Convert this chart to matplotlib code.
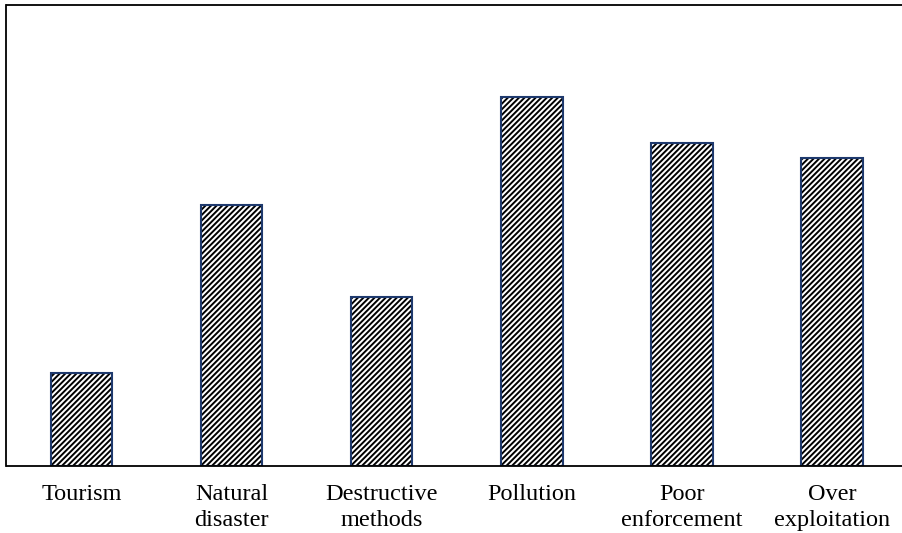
import matplotlib
matplotlib.use("Agg")
import matplotlib.pyplot as plt

categories = ["Tourism", "Natural\ndisaster", "Destructive\nmethods", "Pollution",
              "Poor\nenforcement", "Over\nexploitation"]
values = [10, 28.3, 18.3, 40, 35, 33.4]

plt.rcParams['font.family'] = ['Liberation Serif', 'DejaVu Serif']
plt.rcParams['hatch.linewidth'] = 1.4

fig = plt.figure(figsize=(9.03, 5.33), dpi=100)
ax = fig.add_axes([6.5 / 903, (533 - 465.5) / 533, (907 - 6.5) / 903, (465.5 - 5) / 533])

x = range(len(values))
# hatch drawn in black, outline in navy on top
ax.bar(x, values, width=0.41, color='white', edgecolor='black', hatch='//////', linewidth=0)
ax.bar(x, values, width=0.41, fill=False, edgecolor='#1F3A6E', linewidth=1.5)

ax.set_xlim(-0.5, 5.5)
ax.set_ylim(0, 50)
ax.set_xticks(list(x))
ax.set_xticklabels(categories, fontsize=17.5, linespacing=1.35)
ax.tick_params(axis='x', length=0, pad=13)
ax.set_yticks([])
ax.spines['right'].set_visible(False)
for s in ['left', 'top', 'bottom']:
    ax.spines[s].set_linewidth(1.3)
    ax.spines[s].set_color('black')

fig.savefig("out.png", dpi=100)
